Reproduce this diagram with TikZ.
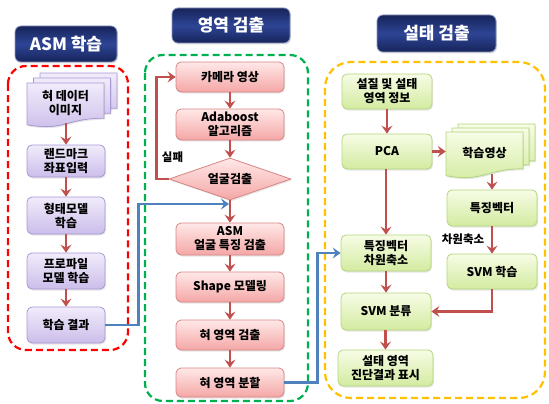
\documentclass[tikz,border=0pt]{standalone}
\usepackage{fontspec}
\newfontfamily\kr{Noto Sans CJK KR}
\usetikzlibrary{shapes.geometric,shadows,arrows.meta}
\definecolor{navyA}{HTML}{17245A}
\definecolor{navyB}{HTML}{2E4595}
\definecolor{navyLine}{HTML}{8A96BE}
\definecolor{purTop}{HTML}{F1ECFB}
\definecolor{purBot}{HTML}{CBBDEA}
\definecolor{purLine}{HTML}{A898D4}
\definecolor{pinkTop}{HTML}{FFE8E8}
\definecolor{pinkBot}{HTML}{F4A7A6}
\definecolor{pinkLine}{HTML}{D88584}
\definecolor{grnTop}{HTML}{F7FCE6}
\definecolor{grnBot}{HTML}{D3EBA0}
\definecolor{grnLine}{HTML}{B3D67B}
\definecolor{arr}{HTML}{C0504D}
\definecolor{blu}{HTML}{4F81BD}
\definecolor{dRed}{HTML}{FF0000}
\definecolor{dGrn}{HTML}{00B050}
\definecolor{dOrg}{HTML}{FFC000}
\newcommand\mydoc[5]{%
  \path[#1] (#2,#3) -- (#4,#3) -- (#4,{#3+0.8*(#5-#3)})
    .. controls ({(#2+#4)/2},{#3+0.8*(#5-#3)}) and ({(#2+#4)/2},{#3+1.1*(#5-#3)}) ..
    (#2,{#3+0.95*(#5-#3)}) -- cycle;}
\tikzset{
  txt/.style={font=\kr\bfseries\fontsize{12}{14}\selectfont, align=center},
  base/.style={txt, rounded corners=5pt, line width=0.8pt, inner sep=1pt,
    drop shadow={opacity=0.2, shadow xshift=1pt, shadow yshift=-1.5pt}},
  pur/.style={base, draw=purLine, top color=purTop, bottom color=purBot},
  pnk/.style={base, draw=pinkLine, top color=pinkTop, bottom color=pinkBot},
  grn/.style={base, draw=grnLine, top color=grnTop, bottom color=grnBot},
  purdoc/.style={draw=purLine, line width=0.8pt, top color=purTop, bottom color=purBot,
    drop shadow={opacity=0.2, shadow xshift=1pt, shadow yshift=-1.5pt}},
  grndoc/.style={draw=grnLine, line width=0.8pt, top color=grnTop, bottom color=grnBot,
    drop shadow={opacity=0.2, shadow xshift=1pt, shadow yshift=-1.5pt}},
  ttl/.style={rounded corners=6pt, draw=navyLine, line width=0.8pt,
    top color=navyA, bottom color=navyA, middle color=navyB,
    text=white, font=\kr\bfseries\fontsize{17}{19}\selectfont,
    drop shadow={opacity=0.25, shadow xshift=1pt, shadow yshift=-1.5pt}},
  dbox/.style={line width=2.2pt, dash pattern=on 7pt off 4pt, rounded corners=18pt},
  ar/.style={draw=arr, line width=2.5pt, -{Stealth[length=8pt,width=11pt,inset=3pt]}},
  bl/.style={draw=blu, line width=2.5pt, -{Stealth[length=8pt,width=11pt,inset=3pt]}},
  lbl/.style={txt, font=\kr\bfseries\fontsize{11.5}{13}\selectfont, inner sep=0pt}
}
\begin{document}
\begin{tikzpicture}[x=1pt,y=-1pt]
\useasboundingbox (0,0) rectangle (549,404);
% containers
\draw[dbox, draw=dRed] (8,66) rectangle (128,350);
\draw[dbox, draw=dGrn] (145,55) rectangle (308,401);
\draw[dbox, draw=dOrg, rounded corners=26pt] (325,62) rectangle (545,398);
% titles
\node[ttl, minimum width=102pt, minimum height=36pt] (t1) at (66,44) {ASM 학습};
\node[ttl, minimum width=118pt, minimum height=35pt] (t2) at (231,25.5) {영역 검출};
\node[ttl, minimum width=119pt, minimum height=37pt] (t3) at (436.5,33.5) {설태 검출};
% left column
\mydoc{purdoc}{40}{73}{117}{117}
\mydoc{purdoc}{33.5}{78}{110.5}{122}
\mydoc{purdoc}{27}{83}{104}{127}
\node[txt, minimum width=77pt, minimum height=40pt, inner sep=0pt] (d1) at (65.5,103) {혀 데이터\\이미지};
\node[pur, minimum width=78pt, minimum height=32pt] (lm) at (66,161) {랜드마크\\좌표입력};
\node[pur, minimum width=78pt, minimum height=37pt] (sm) at (66,215.5) {형태모델\\학습};
\node[pur, minimum width=78pt, minimum height=36pt] (pm) at (66,271) {프로파일\\모델 학습};
\node[pur, minimum width=78pt, minimum height=36pt] (res) at (66,325) {학습 결과};
\draw[ar] (d1.south -| lm) -- (lm);
\draw[ar] (lm) -- (sm);
\draw[ar] (sm) -- (pm);
\draw[ar] (pm) -- (res);
% middle column
\node[pnk, minimum width=108pt, minimum height=30pt] (cam) at (230,77) {카메라 영상};
\node[pnk, minimum width=108pt, minimum height=31pt] (ada) at (230,124.5) {Adaboost\\알고리즘};
\node[pnk, diamond, sharp corners, aspect=2.9, minimum width=122pt, minimum height=42pt, inner sep=0pt] (fd) at (230,179) {얼굴검출};
\node[pnk, minimum width=108pt, minimum height=32pt] (asm) at (230,239) {ASM\\얼굴 특징 검출};
\node[pnk, minimum width=108pt, minimum height=30pt] (shp) at (230,287) {Shape 모델링};
\node[pnk, minimum width=108pt, minimum height=30pt] (tdet) at (230,335) {혀 영역 검출};
\node[pnk, minimum width=108pt, minimum height=29pt] (tspl) at (230,382.5) {혀 영역 분할};
\draw[ar] (cam) -- (ada);
\draw[ar] (ada) -- (fd);
\draw[ar] (fd) -- (asm);
\draw[ar] (asm) -- (shp);
\draw[ar] (shp) -- (tdet);
\draw[ar] (tdet) -- (tspl);
\draw[ar] (fd.west) -- ++(-12,0) |- (cam.west);
\node[lbl] (fail) at (172.5,157) {실패};
% right column
\node[grn, minimum width=90pt, minimum height=35pt] (info) at (387,91.5) {설질 및 설태\\영역 정보};
\node[grn, minimum width=90pt, minimum height=35pt] (pca) at (387,151.5) {PCA};
\mydoc{grndoc}{458}{124}{535}{170}
\mydoc{grndoc}{452}{128}{529}{174}
\mydoc{grndoc}{446}{132}{523}{178}
\node[txt, minimum width=77pt, minimum height=42pt, inner sep=0pt] (dl) at (484.5,153) {학습영상};
\node[grn, minimum width=90pt, minimum height=36pt] (fv) at (492,208) {특징벡터};
\node[grn, minimum width=90pt, minimum height=36pt] (dr) at (386,253) {특징벡터\\차원축소};
\node[grn, minimum width=90pt, minimum height=35pt] (svl) at (492,271.5) {SVM 학습};
\node[grn, minimum width=90pt, minimum height=37pt] (svc) at (386,311.5) {SVM 분류};
\node[grn, minimum width=95pt, minimum height=36pt] (out) at (385.5,368) {설태 영역\\진단결과 표시};
\draw[ar] (info) -- (pca);
\draw[ar] (pca.east) -- (pca.east -| dl.west);
\draw[ar] (pca.south -| dr) -- (dr);
\draw[ar] (dl.south -| fv) -- (fv);
\draw[ar] (fv) -- (svl);
\node[lbl] (dimlbl) at (463,239) {차원축소};
\draw[ar] (svl.south) |- (svc.east);
\draw[ar] (dr) -- (svc);
\draw[ar] (svc.south -| out) -- (out);
% blue connectors
\coordinate (j1) at (229,204);
\draw[bl] (res.east) -- ++(33,0) |- (j1);
\draw[bl] (tspl.east) -- ++(33,0) |- (dr.west);
\end{tikzpicture}
\end{document}
